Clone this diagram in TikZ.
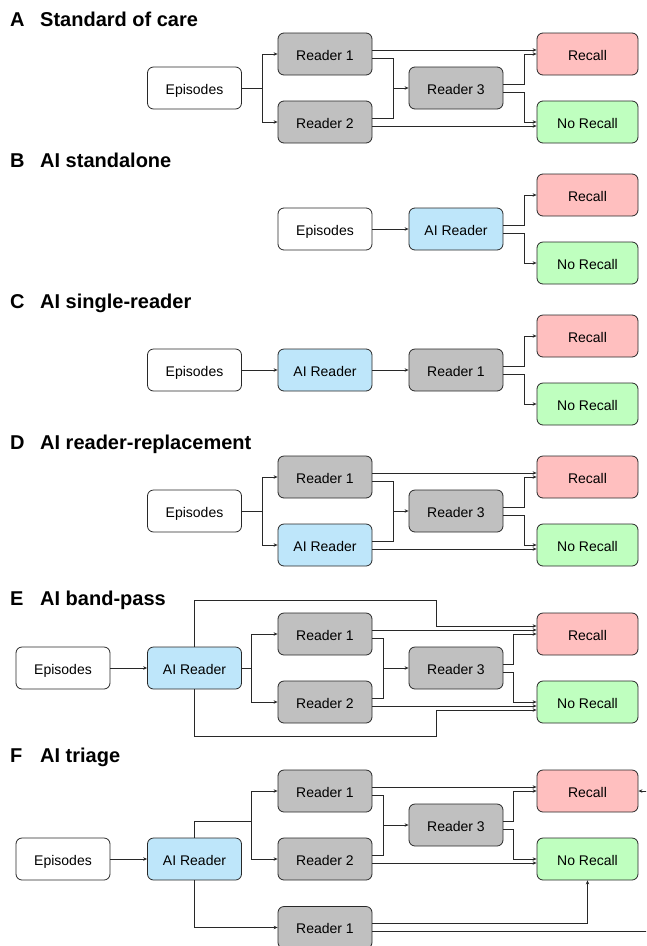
\documentclass[tikz,border=0pt]{standalone}
\usepackage{fontspec}
\setmainfont{Liberation Sans}
\usetikzlibrary{arrows.meta}
\definecolor{recallc}{RGB}{255,191,191}
\definecolor{norecc}{RGB}{191,255,191}
\definecolor{aic}{RGB}{190,230,250}
\definecolor{readerc}{RGB}{192,192,192}
\definecolor{edgec}{RGB}{40,40,40}
\begin{document}
\begin{tikzpicture}[x=1pt,y=-1pt,
 box/.style={draw=edgec, line width=0.8pt, rounded corners=6pt, minimum width=94pt, minimum height=42pt, inner sep=0pt, text height=12pt, text depth=0pt, font=\fontsize{14}{16}\selectfont},
 plain/.style={box, fill=white},
 rdr/.style={box, fill=readerc},
 ai/.style={box, fill=aic},
 rec/.style={box, fill=recallc, minimum width=101pt},
 norec/.style={box, fill=norecc, minimum width=101pt},
 conn/.style={draw=edgec, line width=0.7pt},
 arr/.style={conn, -{Stealth[length=4pt,width=3.5pt]}},
 lab/.style={anchor=base west, inner sep=0pt, font=\fontsize{20}{24}\selectfont\bfseries}]
\useasboundingbox (0,0) rectangle (646,946);
\clip (0,0) rectangle (646,946);

% ---------- A ----------
\node[lab] (aL) at (10,26) {A};
\node[lab] (aT) at (40,26) {Standard of care};
\node[plain] (aEp) at (194.5,88) {Episodes};
\node[rdr] (aR1) at (325,54) {Reader 1};
\node[rdr] (aR2) at (325,122) {Reader 2};
\node[rdr] (aR3) at (456,88) {Reader 3};
\node[rec] (aRec) at (587.5,54) {Recall};
\node[norec] (aNo) at (587.5,122) {No Recall};
\coordinate (aJ1) at (262,88);
\coordinate (aJ2) at (393,88);
\draw[conn] (aEp.east) -- (aJ1);
\draw[arr] (aJ1) |- (aR1.west);
\draw[arr] (aJ1) |- (aR2.west);
\draw[arr] ([yshift=4pt]aR1.east) -- ([yshift=4pt]aRec.west);
\draw[conn] ([yshift=-4pt]aR1.east) -| (aJ2);
\draw[conn] ([yshift=4pt]aR2.east) -| (aJ2);
\draw[arr] (aJ2) -- (aR3.west);
\draw[arr] ([yshift=-4pt]aR2.east) -- ([yshift=-4pt]aNo.west);
\draw[arr] ([yshift=4pt]aR3.east) -- ++(21,0) |- (aRec.west);
\draw[arr] ([yshift=-4pt]aR3.east) -- ++(21,0) |- (aNo.west);

% ---------- B ----------
\node[lab] (bL) at (10,167) {B};
\node[lab] (bT) at (40,167) {AI standalone};
\node[plain] (bEp) at (325,229) {Episodes};
\node[ai] (bAI) at (456,229) {AI Reader};
\node[rec] (bRec) at (587.5,195) {Recall};
\node[norec] (bNo) at (587.5,263) {No Recall};
\draw[arr] (bEp.east) -- (bAI.west);
\draw[arr] ([yshift=4pt]bAI.east) -- ++(21,0) |- (bRec.west);
\draw[arr] ([yshift=-4pt]bAI.east) -- ++(21,0) |- (bNo.west);

% ---------- C ----------
\node[lab] (cL) at (10,308) {C};
\node[lab] (cT) at (40,308) {AI single-reader};
\node[plain] (cEp) at (194.5,370) {Episodes};
\node[ai] (cAI) at (325,370) {AI Reader};
\node[rdr] (cR1) at (456,370) {Reader 1};
\node[rec] (cRec) at (587.5,336) {Recall};
\node[norec] (cNo) at (587.5,404) {No Recall};
\draw[arr] (cEp.east) -- (cAI.west);
\draw[arr] (cAI.east) -- (cR1.west);
\draw[arr] ([yshift=4pt]cR1.east) -- ++(21,0) |- (cRec.west);
\draw[arr] ([yshift=-4pt]cR1.east) -- ++(21,0) |- (cNo.west);

% ---------- D ----------
\node[lab] (dL) at (10,449) {D};
\node[lab] (dT) at (40,449) {AI reader-replacement};
\node[plain] (dEp) at (194.5,511) {Episodes};
\node[rdr] (dR1) at (325,477) {Reader 1};
\node[ai] (dAI) at (325,545) {AI Reader};
\node[rdr] (dR3) at (456,511) {Reader 3};
\node[rec] (dRec) at (587.5,477) {Recall};
\node[norec] (dNo) at (587.5,545) {No Recall};
\coordinate (dJ1) at (262,511);
\coordinate (dJ2) at (393,511);
\draw[conn] (dEp.east) -- (dJ1);
\draw[arr] (dJ1) |- (dR1.west);
\draw[arr] (dJ1) |- (dAI.west);
\draw[arr] ([yshift=4pt]dR1.east) -- ([yshift=4pt]dRec.west);
\draw[conn] ([yshift=-4pt]dR1.east) -| (dJ2);
\draw[conn] ([yshift=4pt]dAI.east) -| (dJ2);
\draw[arr] (dJ2) -- (dR3.west);
\draw[arr] ([yshift=-4pt]dAI.east) -- ([yshift=-4pt]dNo.west);
\draw[arr] ([yshift=4pt]dR3.east) -- ++(21,0) |- (dRec.west);
\draw[arr] ([yshift=-4pt]dR3.east) -- ++(21,0) |- (dNo.west);

% ---------- E ----------
\node[lab] (eL) at (10,605) {E};
\node[lab] (eT) at (40,605) {AI band-pass};
\node[plain] (eEp) at (63,668) {Episodes};
\node[ai] (eAI) at (194.5,668) {AI Reader};
\node[rdr] (eR1) at (325,634) {Reader 1};
\node[rdr] (eR2) at (325,702) {Reader 2};
\node[rdr] (eR3) at (456,668) {Reader 3};
\node[rec] (eRec) at (587.5,634) {Recall};
\node[norec] (eNo) at (587.5,702) {No Recall};
\coordinate (eJ1) at (251,668);
\coordinate (eJ2) at (383,668);
\coordinate (eT1) at (436,600);
\coordinate (eB1) at (436,736);
\draw[arr] (eEp.east) -- (eAI.west);
\draw[conn] (eAI.east) -- (eJ1);
\draw[arr] (eJ1) |- (eR1.west);
\draw[arr] (eJ1) |- (eR2.west);
\draw[arr] (eAI.north) |- (eT1) |- ([yshift=8pt]eRec.west);
\draw[arr] (eAI.south) |- (eB1) |- ([yshift=-8pt]eNo.west);
\draw[arr] ([yshift=4pt]eR1.east) -- ([yshift=4pt]eRec.west);
\draw[conn] ([yshift=-4pt]eR1.east) -| (eJ2);
\draw[conn] ([yshift=4pt]eR2.east) -| (eJ2);
\draw[arr] (eJ2) -- (eR3.west);
\draw[arr] ([yshift=-4pt]eR2.east) -- ([yshift=-4pt]eNo.west);
\draw[arr] ([yshift=4pt]eR3.east) -- ++(10,0) |- (eRec.west);
\draw[arr] ([yshift=-4pt]eR3.east) -- ++(10,0) |- (eNo.west);

% ---------- F ----------
\node[lab] (fL) at (10,762) {F};
\node[lab] (fT) at (40,762) {AI triage};
\node[plain] (fEp) at (63,859) {Episodes};
\node[ai] (fAI) at (194.5,859) {AI Reader};
\node[rdr] (fR1) at (325,791) {Reader 1};
\node[rdr] (fR2) at (325,859) {Reader 2};
\node[rdr] (fR3) at (456,825) {Reader 3};
\node[rec] (fRec) at (587.5,791) {Recall};
\node[norec] (fNo) at (587.5,859) {No Recall};
\node[rdr] (fR1b) at (325,927.5) {Reader 1};
\coordinate (fJ1) at (251,821);
\coordinate (fJ2) at (383,825);
\coordinate (fOut) at (690,791);
\draw[arr] (fEp.east) -- (fAI.west);
\draw[conn] (fAI.north) |- (fJ1);
\draw[arr] (fJ1) |- (fR1.west);
\draw[arr] (fJ1) |- (fR2.west);
\draw[arr] (fAI.south) |- (fR1b.west);
\draw[arr] ([yshift=4pt]fR1.east) -- ([yshift=4pt]fRec.west);
\draw[conn] ([yshift=-4pt]fR1.east) -| (fJ2);
\draw[conn] ([yshift=4pt]fR2.east) -| (fJ2);
\draw[arr] (fJ2) -- (fR3.west);
\draw[arr] ([yshift=-4pt]fR2.east) -- ([yshift=-4pt]fNo.west);
\draw[arr] ([yshift=4pt]fR3.east) -- ++(10,0) |- (fRec.west);
\draw[arr] ([yshift=-4pt]fR3.east) -- ++(10,0) |- (fNo.west);
\draw[arr] ([yshift=4pt]fR1b.east) -| (fNo.south);
\draw[arr] ([yshift=-4pt]fR1b.east) -| (fOut) -- (fRec.east);
\end{tikzpicture}
\end{document}
